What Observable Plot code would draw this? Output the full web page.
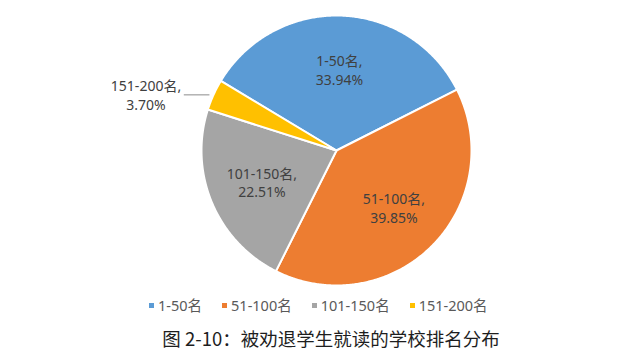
<!DOCTYPE html>
<html>
<head>
<meta charset="utf-8">
<script src="https://cdn.jsdelivr.net/npm/d3@7"></script>
<script src="https://cdn.jsdelivr.net/npm/@observablehq/plot@0.6"></script>
<style>
  html, body { margin: 0; padding: 0; background: #ffffff; }
  #root { width: 640px; height: 362px; position: relative; overflow: hidden; }
  #root svg { display: block; }
  .legend { display: flex; align-items: center; margin-top: 5px; margin-left: 149px; height: 16px;
            font-family: "Noto Sans", "Noto Sans CJK SC", sans-serif; font-size: 14.5px; color: #595959; line-height: 16px; }
  .legend .item { display: flex; align-items: center; margin-right: 20px; }
  .legend .sw { width: 5px; height: 5px; margin-right: 4px; }
  .caption { margin-top: 13px; padding-left: 22px; text-align: center; height: 24px; line-height: 24px;
             font-family: "Noto Sans CJK SC", sans-serif; font-size: 18.5px; color: #1e1e1e; }
</style>
</head>
<body>
<div id="root"></div>
<script>
// ---- data ----
const categories = ["1-50名", "51-100名", "101-150名", "151-200名"];
const shares = [33.94, 39.85, 22.51, 3.70];
const colors = ["#5B9BD5", "#ED7D31", "#A5A5A5", "#FFC000"];
const insideLabel = [true, true, true, false];
const captionText = "图 2-10：被劝退学生就读的学校排名分布";

// ---- geometry from data ----
const data = categories.map((name, i) => ({name, share: shares[i], inside: insideLabel[i]}));
const start = -59 * Math.PI / 180;
const arcs = d3.pie().value(d => d.share).sort(null).startAngle(start).endAngle(start + 2 * Math.PI)(data);

const pts = [];
for (const a of arcs) {
  pts.push({name: a.data.name, x: 0, y: 0});
  const n = Math.max(2, Math.ceil((a.endAngle - a.startAngle) / (Math.PI / 360)));
  for (let k = 0; k <= n; k++) {
    const t = a.startAngle + (a.endAngle - a.startAngle) * k / n;
    pts.push({name: a.data.name, x: Math.sin(t), y: Math.cos(t)});
  }
}

const fmt = d => d.toFixed(2) + "%";
const inner = arcs.filter(a => a.data.inside).map(a => {
  const m = (a.startAngle + a.endAngle) / 2;
  return {x: 0.6 * Math.sin(m), y: 0.6 * Math.cos(m), text: a.data.name + ",\n" + fmt(a.data.share)};
});
const outer = arcs.filter(a => !a.data.inside).map(a => {
  const m = (a.startAngle + a.endAngle) / 2;
  const ex = Math.sin(m), ey = Math.cos(m);
  return {ex, ey, x1: ex - 0.22, x2: ex - 0.03, lx: ex - 0.5, text: a.data.name + ",\n" + fmt(a.data.share)};
});

const chart = Plot.plot({
  width: 640,
  height: 292,
  margin: 0,
  x: {domain: [-1, 1], range: [201, 471], axis: null},
  y: {domain: [-1, 1], range: [285, 15], axis: null},
  color: {domain: categories, range: colors},
  marks: [
    Plot.line(pts, {x: "x", y: "y", z: "name", fill: "name", stroke: "white", strokeWidth: 2,
                    strokeLinejoin: "round", curve: "linear-closed"}),
    Plot.text(inner, {x: "x", y: "y", text: "text", fontSize: 14, lineHeight: 1.35, fill: "#404040",
                      fontFamily: "Noto Sans, Noto Sans CJK SC, sans-serif"}),
    Plot.link(outer, {x1: "x1", x2: "x2", y1: "ey", y2: "ey", stroke: "#8c8c8c", strokeWidth: 1}),
    Plot.text(outer, {x: "lx", y: "ey", text: "text", fontSize: 14, lineHeight: 1.35, fill: "#404040",
                      fontFamily: "Noto Sans, Noto Sans CJK SC, sans-serif"})
  ]
});

const root = document.getElementById("root");
root.appendChild(chart);

const legend = document.createElement("div");
legend.className = "legend";
categories.forEach((c, i) => {
  const item = document.createElement("div");
  item.className = "item";
  const sw = document.createElement("span");
  sw.className = "sw";
  sw.style.background = colors[i];
  const tx = document.createElement("span");
  tx.textContent = c;
  item.appendChild(sw);
  item.appendChild(tx);
  legend.appendChild(item);
});
root.appendChild(legend);

const cap = document.createElement("div");
cap.className = "caption";
cap.textContent = captionText;
root.appendChild(cap);
</script>
</body>
</html>
